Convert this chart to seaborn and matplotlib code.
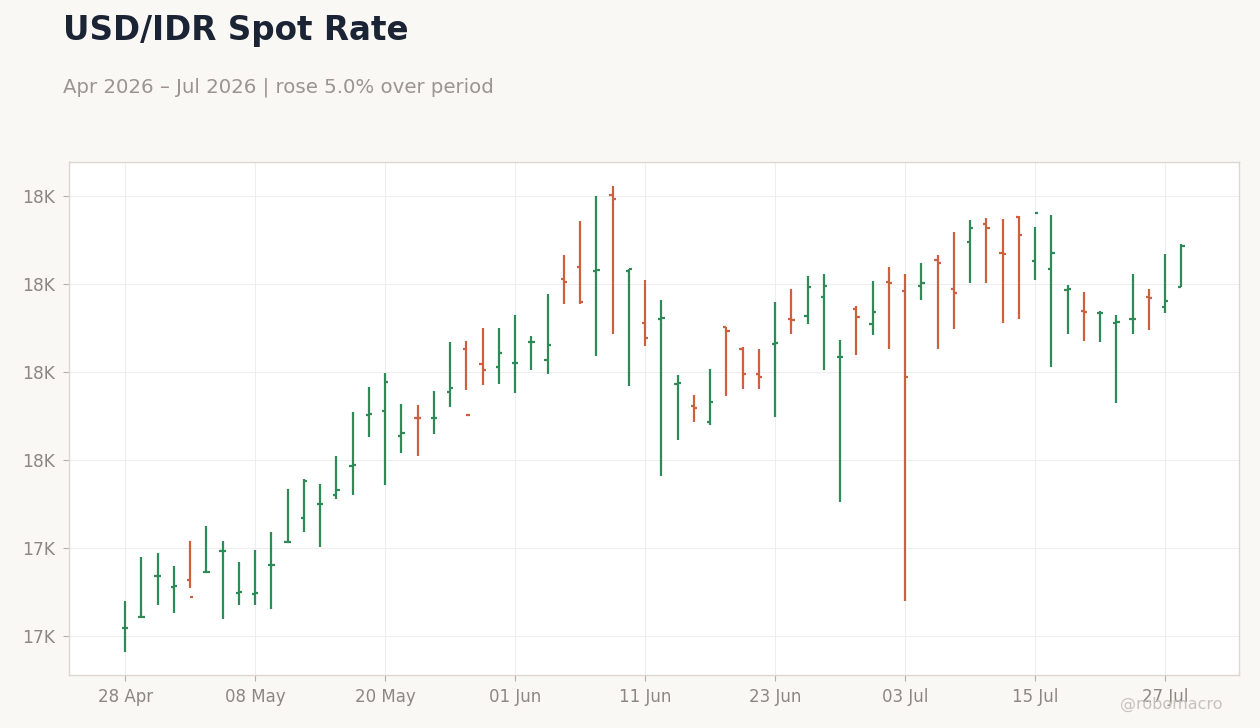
import numpy as np
import pandas as pd
import matplotlib
matplotlib.use('Agg')
import matplotlib.pyplot as plt
import matplotlib.ticker as mtick
import seaborn as sns

sns.set_theme(style='whitegrid')
plt.rcParams['font.family'] = ['DejaVu Sans']

"""data: USD/IDR daily OHLC, trading days 28 Apr - 28 Jul 2026"""

dates = pd.bdate_range('2026-04-28', '2026-07-28')

opens = [17117, 17143, 17235, 17212, 17228, 17245, 17292, 17198, 17196, 17260,
         17314, 17367, 17399, 17419, 17487, 17603, 17610, 17555, 17596, 17594,
         17655, 17751, 17717, 17712, 17719, 17767, 17728, 17910, 17939, 17930,
         18101, 17930, 17810, 17821, 17673, 17623, 17587, 17803, 17753, 17696,
         17764, 17819, 17826, 17871, 17733, 17842, 17808, 17905, 17883, 17894,
         17955, 17889, 17994, 18037, 17971, 18053, 17951, 17933, 17886, 17839,
         17833, 17812, 17819, 17869, 17848, 17892]
highs = [17180, 17280, 17289, 17259, 17316, 17350, 17316, 17268, 17295, 17336,
         17434, 17457, 17445, 17509, 17609, 17666, 17698, 17627, 17625, 17657,
         17768, 17770, 17800, 17800, 17830, 17782, 17877, 17966, 18043, 18100,
         18123, 17933, 17909, 17864, 17693, 17648, 17707, 17803, 17756, 17752,
         17859, 17889, 17918, 17923, 17773, 17850, 17907, 17939, 17923, 17948,
         17966, 18018, 18045, 18050, 18048, 18055, 18030, 18057, 17898, 17882,
         17839, 17830, 17923, 17889, 17968, 17991]
lows = [17064, 17143, 17169, 17151, 17208, 17245, 17139, 17171, 17169, 17160,
        17314, 17337, 17301, 17410, 17421, 17551, 17442, 17516, 17508, 17558,
        17619, 17658, 17669, 17673, 17651, 17705, 17694, 17855, 17855, 17735,
        17785, 17667, 17758, 17464, 17546, 17585, 17579, 17646, 17660, 17662,
        17598, 17785, 17808, 17705, 17405, 17739, 17783, 17753, 17180, 17864,
        17751, 17798, 17903, 17901, 17812, 17819, 17908, 17710, 17787, 17771,
        17767, 17630, 17785, 17794, 17833, 17892]
closes = [17118, 17143, 17236, 17213, 17189, 17245, 17293, 17199, 17197, 17261,
          17314, 17451, 17400, 17432, 17488, 17604, 17678, 17560, 17594, 17595,
          17664, 17601, 17705, 17742, 17720, 17768, 17760, 17905, 17858, 17931,
          18092, 17933, 17778, 17823, 17674, 17617, 17632, 17792, 17696, 17689,
          17765, 17817, 17892, 17896, 17734, 17825, 17837, 17901, 17689, 17901,
          17948, 17880, 18028, 18028, 17967, 18012, 18060, 17971, 17889, 17835,
          17834, 17813, 17820, 17868, 17860, 17985]

title = 'USD/IDR Spot Rate'
subtitle = 'Apr 2026 \u2013 Jul 2026 | rose 5.0% over period'
y_ticks = [17100, 17300, 17500, 17700, 17900, 18100]

GREEN = '#2e8b57'
RED = '#cc6140'
BG = '#f9f8f5'

df = pd.DataFrame({'date': dates, 'open': opens, 'high': highs,
                   'low': lows, 'close': closes})
df['i'] = np.arange(len(df))
df['color'] = np.where(df['close'] >= df['open'], GREEN, RED)

#%% OHLC bars

fig = plt.figure(figsize=(12.6, 7.28), dpi=100, facecolor=BG)
ax = fig.add_axes([0.0548, 0.0728, 0.9286, 0.7047])
ax.set_facecolor('white')

lw = 1.6
ax.vlines(df['i'], df['low'], df['high'], colors=df['color'], lw=lw, zorder=3)
ax.hlines(df['open'], df['i'] - 0.2, df['i'], colors=df['color'], lw=lw, zorder=3)
ax.hlines(df['close'], df['i'], df['i'] + 0.2, colors=df['color'], lw=lw, zorder=3)

ax.set_xlim(-3.45, 68.55)
ax.set_ylim(17011, 18177)

xt = list(range(0, len(df), 8))
ax.set_xticks(xt)
ax.set_xticklabels([df['date'][k].strftime('%d %b') for k in xt])
ax.set_yticks(y_ticks)
ax.yaxis.set_major_formatter(mtick.FuncFormatter(lambda v, p: '{:.0f}K'.format(v / 1000)))

ax.grid(True, color='#eeeeee', lw=0.8)
ax.tick_params(axis='both', which='major', length=4, width=0.8, color='#b5afa8',
               labelsize=12, labelcolor='#8c8782', pad=5, bottom=True, left=True)
ax.tick_params(axis='y', labelsize=12.3, pad=6)
for s in ax.spines.values():
    s.set_color('#dcd7d0')
    s.set_linewidth(1)
ax.set_xlabel('')
ax.set_ylabel('')

fig.text(0.05, 0.945, title, fontsize=23.5, fontweight='bold', color='#1b2434',
         ha='left', va='baseline')
fig.text(0.05, 0.8736, subtitle, fontsize=14.25, color='#9a9590',
         ha='left', va='baseline')
# watermark sits over the last date label, as in the source
fig.text(0.97, 0.026, '@robomacro', fontsize=11.5, color='#c6c2bc',
         ha='right', va='baseline')

fig.savefig('out.png', dpi=100, facecolor=BG)
